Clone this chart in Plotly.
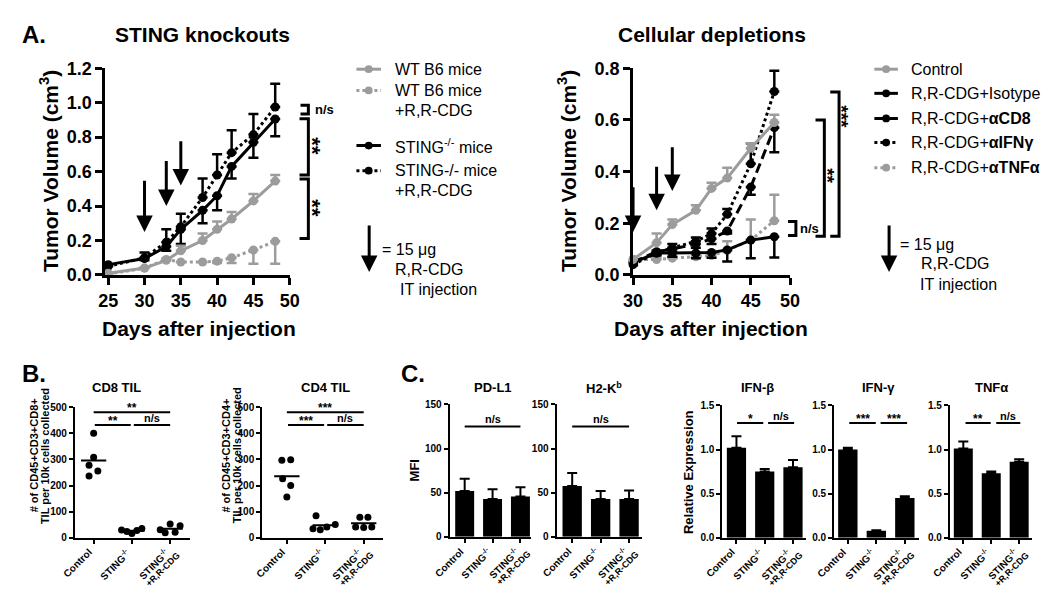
import plotly.graph_objects as go

W, H = 1050, 589
FONT = "Liberation Sans, Arial, Helvetica, sans-serif"
GRAY = "#9c9c9c"
BLACK = "#000000"

# ======================= DATA =======================
# Panel A (left): STING knockouts, tumor volume (cm3) vs day
ko_days = [25, 30, 33, 35, 38, 40, 42, 45, 48]
wt_mean = [0.01, 0.04, 0.085, 0.14, 0.20, 0.265, 0.325, 0.43, 0.545]
wt_err = [0.0, 0.005, 0.01, 0.03, 0.04, 0.045, 0.04, 0.04, 0.035]
wt_cdg_mean = [0.005, 0.04, 0.09, 0.075, 0.075, 0.08, 0.10, 0.145, 0.195]
wt_cdg_err = [0.0, 0.0, 0.0, 0.0, 0.0, 0.01, 0.03, 0.08, 0.13]
sting_mean = [0.06, 0.095, 0.165, 0.265, 0.375, 0.46, 0.63, 0.77, 0.905]
sting_err = [0.0, 0.01, 0.025, 0.085, 0.075, 0.085, 0.07, 0.09, 0.10]
sting_cdg_mean = [0.05, 0.10, 0.19, 0.28, 0.45, 0.58, 0.71, 0.815, 0.975]
sting_cdg_err = [0.0, 0.03, 0.075, 0.075, 0.11, 0.12, 0.13, 0.12, 0.135]

# Panel A (right): cellular depletions
dep_days = [30, 33, 35, 38, 40, 42, 45, 48]
ctrl_mean = [0.06, 0.125, 0.195, 0.25, 0.335, 0.375, 0.49, 0.59]
ctrl_err = [0.01, 0.035, 0.02, 0.02, 0.022, 0.04, 0.02, 0.03]
iso_mean = [0.048, 0.085, 0.085, 0.085, 0.087, 0.097, 0.135, 0.148]
iso_err = [0.01, 0.01, 0.015, 0.02, 0.02, 0.045, 0.07, 0.08]
cd8_mean = [0.05, 0.09, 0.10, 0.12, 0.14, 0.17, 0.34, 0.57]
cd8_err = [0.005, 0.01, 0.01, 0.015, 0.02, 0.01, 0.03, 0.095]
ifng_dep_mean = [0.04, 0.085, 0.105, 0.13, 0.16, 0.235, 0.43, 0.71]
ifng_dep_err = [0.005, 0.01, 0.015, 0.015, 0.02, 0.02, 0.08, 0.08]
tnfa_dep_mean = [0.06, 0.06, 0.065, 0.07, 0.075, 0.095, 0.135, 0.21]
tnfa_dep_err = [0.005, 0.005, 0.005, 0.01, 0.01, 0.035, 0.08, 0.10]

# Injection days (arrows) and arrow extents (tip, tail) in cm3
inj_days = [30, 33, 35]
ko_arrow_tip = [0.25, 0.40, 0.52]
ko_arrow_tail = [0.555, 0.67, 0.785]
dep_arrow_tip = [0.166, 0.25, 0.325]
dep_arrow_tail = [0.345, 0.425, 0.50]

# Panel B: TIL counts per 10k cells
groups = ["Control", "STING<sup>-/-</sup>", "STING<sup>-/-</sup><br>+R,R-CDG"]
cd8_control = [401, 309, 278, 256, 237]
cd8_sting = [30, 24, 16, 28, 35]
cd8_sting_cdg = [31, 53, 46, 19, 21]
cd4_control = [297, 299, 226, 200, 156]
cd4_sting = [84, 34, 31, 41, 51]
cd4_sting_cdg = [79, 79, 41, 39, 41]

# Panel C: MFI and relative expression (mean, SEM)
pdl1_mean = [51.9, 42.8, 45.7]
pdl1_sem = [13.9, 11.0, 10.3]
h2kb_mean = [57.4, 42.8, 42.8]
h2kb_sem = [15.0, 9.2, 9.5]
ifnb_mean = [1.02, 0.75, 0.80]
ifnb_sem = [0.13, 0.03, 0.08]
ifng_mean = [1.00, 0.08, 0.45]
ifng_sem = [0.02, 0.005, 0.02]
tnfa_mean = [1.01, 0.73, 0.86]
tnfa_sem = [0.08, 0.02, 0.03]

# ======================= STYLE / LAYOUT HELPERS =======================
JITTER = {
    "cd8": [[0, 0, -0.12, 0.11, -0.12], [-0.27, -0.13, 0, 0.13, 0.26], [-0.26, 0, 0.26, -0.13, 0.13]],
    "cd4": [[-0.13, 0.10, -0.11, 0.10, 0], [-0.24, -0.32, -0.13, 0.04, 0.26], [-0.10, 0.11, -0.21, 0, 0.21]],
}
# per text line of a rotated category label: (font size, y offset px, x shift px)
CAT_LINE_STYLE = [(10, 6, 4), (9, 10, 15)]


def pxx(p):
    return p / W


def pxy(p):
    return 1 - p / H


def xr(i):
    return "x" if i == 1 else f"x{i}"


def yr(i):
    return "y" if i == 1 else f"y{i}"


layout = dict(
    width=W, height=H, margin=dict(l=0, r=0, t=0, b=0),
    paper_bgcolor="white", plot_bgcolor="white", showlegend=False,
    font=dict(family=FONT, color="black"),
)
shapes = []
annotations = []
traces = []
cat_ticks = [0, 1, 2]


def add_axes(i, xl, xrt, yt, yb, xrange, yrange, xtickvals, ytickvals, ytickfmt, big):
    lw = 3 if big else 2
    tl = 7 if big else 4
    fs = 18 if big else 10
    xn = "xaxis" if i == 1 else f"xaxis{i}"
    yn = "yaxis" if i == 1 else f"yaxis{i}"
    layout[xn] = dict(
        domain=[pxx(xl), pxx(xrt)], range=xrange, anchor=yr(i),
        showline=True, linecolor="black", linewidth=lw, ticks="outside",
        ticklen=tl, tickwidth=lw, tickcolor="black", showgrid=False, zeroline=False,
        tickvals=xtickvals, showticklabels=big,
        tickfont=dict(size=fs, weight="bold", color="black"),
        fixedrange=True,
    )
    layout[yn] = dict(
        domain=[pxy(yb), pxy(yt)], range=yrange, anchor=xr(i),
        showline=True, linecolor="black", linewidth=lw, ticks="outside",
        ticklen=tl, tickwidth=lw, tickcolor="black", showgrid=False, zeroline=False,
        tickvals=ytickvals, tickformat=ytickfmt,
        tickfont=dict(size=fs, weight="bold", color="black"),
        fixedrange=True,
    )
    if not big:
        # rotated category labels (one annotation per text line)
        for g, lab in enumerate(groups):
            for k, line in enumerate(lab.split("<br>")):
                size, dy, dx = CAT_LINE_STYLE[k]
                annotations.append(dict(
                    x=cat_ticks[g], xref=xr(i), y=pxy(yb + dy), yref="paper",
                    text=f"<b>{line}</b>", showarrow=False, xanchor="right", yanchor="top",
                    textangle=-45, xshift=dx, font=dict(size=size, color="black"),
                ))


add_axes(1, 89, 277, 52, 266, [24.6, 50], [0, 1.2], [25, 30, 35, 40, 45, 50],
         [0, 0.2, 0.4, 0.6, 0.8, 1.0, 1.2], ".1f", True)
add_axes(2, 627, 787, 52, 266, [30, 50], [0, 0.8], [30, 35, 40, 45, 50],
         [0, 0.2, 0.4, 0.6, 0.8], ".1f", True)
add_axes(3, 58, 175, 403, 538, [-0.49, 2.51], [0, 500], cat_ticks, [0, 100, 200, 300, 400, 500], "d", False)
add_axes(4, 249, 372, 403, 538, [-0.64, 2.5], [0, 500], cat_ticks, [0, 100, 200, 300, 400, 500], "d", False)
add_axes(5, 440, 523, 400, 537, [-0.54, 2.38], [0, 150], cat_ticks, [0, 50, 100, 150], "d", False)
add_axes(6, 549, 636, 400, 537, [-0.55, 2.45], [0, 150], cat_ticks, [0, 50, 100, 150], "d", False)
add_axes(7, 718, 803, 401, 538, [-0.5, 2.45], [0, 1.5], cat_ticks, [0, 0.5, 1.0, 1.5], ".1f", False)
add_axes(8, 832, 918, 401, 538, [-0.48, 2.48], [0, 1.5], cat_ticks, [0, 0.5, 1.0, 1.5], ".1f", False)
add_axes(9, 950, 1034, 401, 538, [-0.48, 2.47], [0, 1.5], cat_ticks, [0, 0.5, 1.0, 1.5], ".1f", False)


def curve(i, days, mean, err, up, color, dash):
    zeros = [0] * len(mean)
    traces.append(go.Scatter(
        x=days, y=mean, mode="lines+markers", xaxis=xr(i), yaxis=yr(i),
        line=dict(color=color, width=3, dash=dash), marker=dict(size=9, color=color),
        error_y=dict(type="data", symmetric=False, array=err if up else zeros,
                     arrayminus=zeros if up else err, color=color, thickness=2.5, width=5),
        cliponaxis=False,
    ))


# Panel A left
curve(1, ko_days, sting_cdg_mean, sting_cdg_err, True, BLACK, "dot")
curve(1, ko_days, sting_mean, sting_err, False, BLACK, "solid")
curve(1, ko_days, wt_cdg_mean, wt_cdg_err, False, GRAY, "dot")
curve(1, ko_days, wt_mean, wt_err, True, GRAY, "solid")
# Panel A right
curve(2, dep_days, tnfa_dep_mean, tnfa_dep_err, True, GRAY, "dot")
curve(2, dep_days, iso_mean, iso_err, False, BLACK, "solid")
curve(2, dep_days, cd8_mean, cd8_err, False, BLACK, "10px,5px")
curve(2, dep_days, ifng_dep_mean, ifng_dep_err, True, BLACK, "dot")
curve(2, dep_days, ctrl_mean, ctrl_err, True, GRAY, "solid")


def arrows(i, days, tips, tails):
    for d, t, s in zip(days, tips, tails):
        annotations.append(dict(
            x=d, y=t, ax=d, ay=s, xref=xr(i), yref=yr(i), axref=xr(i), ayref=yr(i),
            text="", showarrow=True, arrowhead=2, arrowsize=1.1, arrowwidth=3, arrowcolor="black",
        ))


arrows(1, inj_days, ko_arrow_tip, ko_arrow_tail)
arrows(2, inj_days, dep_arrow_tip, dep_arrow_tail)


def dotplot(i, key, series):
    for g, vals in enumerate(series):
        xs = [g + j for j in JITTER[key][g]]
        traces.append(go.Scatter(x=xs, y=vals, mode="markers", xaxis=xr(i), yaxis=yr(i),
                                 marker=dict(size=7, color="black"), cliponaxis=False))
        m = sum(vals) / len(vals)
        traces.append(go.Scatter(x=[g - 0.33, g + 0.33], y=[m, m], mode="lines", xaxis=xr(i), yaxis=yr(i),
                                 line=dict(color="black", width=2)))


dotplot(3, "cd8", [cd8_control, cd8_sting, cd8_sting_cdg])
dotplot(4, "cd4", [cd4_control, cd4_sting, cd4_sting_cdg])


def bars(i, mean, sem):
    traces.append(go.Bar(
        x=cat_ticks, y=mean, xaxis=xr(i), yaxis=yr(i), width=0.68,
        marker=dict(color="black", line=dict(width=0)),
        error_y=dict(type="data", symmetric=False, array=sem, arrayminus=[0] * len(sem),
                     color="black", thickness=2, width=5),
    ))


bars(5, pdl1_mean, pdl1_sem)
bars(6, h2kb_mean, h2kb_sem)
bars(7, ifnb_mean, ifnb_sem)
bars(8, ifng_mean, ifng_sem)
bars(9, tnfa_mean, tnfa_sem)


# ---- significance markers ----
def sig(i, x0, x1, y, text, star=True):
    shapes.append(dict(type="line", xref=xr(i), yref=yr(i), x0=x0, x1=x1, y0=y, y1=y,
                       line=dict(color="black", width=2)))
    annotations.append(dict(xref=xr(i), yref=yr(i), x=(x0 + x1) / 2, y=y, text=f"<b>{text}</b>",
                            showarrow=False, yanchor="bottom", yshift=-5 if star else -1,
                            font=dict(size=12 if star else 11)))


sig(3, 0, 2, 481, "**")
sig(3, 0.03, 0.97, 432, "**")
sig(3, 1.05, 2, 432, "n/s", False)
sig(4, 0, 2, 481, "***")
sig(4, 0.03, 0.97, 432, "***")
sig(4, 1.05, 2, 432, "n/s", False)
sig(5, 0, 2, 125, "n/s", False)
sig(6, 0, 2, 125, "n/s", False)
sig(7, 0.02, 0.95, 1.3, "*")
sig(7, 1.12, 2.04, 1.3, "n/s", False)
sig(8, 0.05, 0.98, 1.3, "***")
sig(8, 1.15, 2.08, 1.3, "***")
sig(9, 0.08, 0.98, 1.3, "**")
sig(9, 1.18, 2.04, 1.3, "n/s", False)


def bracket(i, x_tick, x_v, y_top, y_bot):
    path = (f"M {pxx(x_tick)},{y_top} L {pxx(x_v)},{y_top} L {pxx(x_v)},{y_bot} "
            f"L {pxx(x_tick)},{y_bot}")
    shapes.append(dict(type="path", xref="paper", yref=yr(i), path=path,
                       line=dict(color="black", width=3)))


def note(x, y, text, size, xanchor="center", yref="paper", angle=0, bold=True, yanchor="middle"):
    annotations.append(dict(
        x=pxx(x), y=y, xref="paper", yref=yref,
        text=f"<b>{text}</b>" if bold else text, showarrow=False, xanchor=xanchor, yanchor=yanchor,
        textangle=angle, font=dict(size=size, color="black"),
    ))


bracket(1, 288, 296, 0.985, 0.935)
bracket(1, 287, 296, 0.907, 0.58)
bracket(1, 287, 296, 0.557, 0.211)
note(301, 0.962, "n/s", 13, xanchor="left", yref="y")
note(300, 0.745, "**", 22, yref="y", angle=90)
note(300, 0.385, "**", 22, yref="y", angle=90)

bracket(2, 785, 793, 0.207, 0.153)
bracket(2, 813, 822, 0.60, 0.15)
bracket(2, 828, 837, 0.708, 0.15)
note(795, 0.18, "n/s", 13, xanchor="left", yref="y2")
note(825, 0.385, "**", 19, yref="y2", angle=90)
note(840, 0.614, "***", 19, yref="y2", angle=90)

# ---- titles / labels ----
note(2, pxy(17), "A.", 24, xanchor="left")
note(188, pxy(17), "STING knockouts", 21)
note(707, pxy(17), "Cellular depletions", 21)
note(31, pxy(158), "Tumor Volume (cm<sup>3</sup>)", 21, angle=-90)
note(559, pxy(158), "Tumor Volume (cm<sup>3</sup>)", 21, angle=-90)
note(185, pxy(321), "Days after injection", 21)
note(706, pxy(321), "Days after injection", 21)

note(2, pxy(368), "B.", 24, xanchor="left")
note(100, pxy(383), "CD8 TIL", 13)
note(313, pxy(383), "CD4 TIL", 13)
note(16, pxy(453), "# of CD45+CD3+CD8+", 11, angle=-90)
note(27, pxy(453), "TIL per 10k cells collected", 11, angle=-90)
note(212, pxy(453), "# of CD45+CD3+CD4+", 11, angle=-90)
note(223, pxy(453), "TIL per 10k cells collected", 11, angle=-90)

note(388, pxy(368), "C.", 24, xanchor="left")
note(484, pxy(383), "PD-L1", 13)
note(597, pxy(383), "H2-K<sup>b</sup>", 13)
note(754, pxy(383), "IFN-β", 13)
note(877, pxy(383), "IFN-γ", 13)
note(992, pxy(383), "TNFα", 13)
note(404, pxy(468), "MFI", 13, angle=-90)
note(683, pxy(470), "Relative Expression", 13, angle=-90)


# ---- hand-drawn legends ----
def legend_item(x0, x1, y, color, dash):
    shapes.append(dict(type="line", xref="paper", yref="paper", x0=pxx(x0), x1=pxx(x1),
                       y0=pxy(y), y1=pxy(y), line=dict(color=color, width=3, dash=dash)))
    xc, r = (x0 + x1) / 2, 4
    shapes.append(dict(type="circle", xref="paper", yref="paper", x0=pxx(xc - r), x1=pxx(xc + r),
                       y0=pxy(y + r), y1=pxy(y - r), fillcolor=color, line=dict(width=0)))


def legend_arrow(x, y_top, y_tip):
    annotations.append(dict(x=pxx(x), y=pxy(y_tip), xref="paper", yref="paper", ax=0, ay=-(y_tip - y_top),
                            text="", showarrow=True, arrowhead=2, arrowsize=1.1, arrowwidth=3,
                            arrowcolor="black"))


legend_item(345, 370, 53, GRAY, "solid")
legend_item(345, 370, 75, GRAY, "dot")
legend_item(345, 370, 132, BLACK, "solid")
legend_item(345, 370, 158, BLACK, "dot")
for y, t in [(53, "WT B6 mice"), (75, "WT B6 mice"), (96, "+R,R-CDG"),
             (132, "STING<sup>-/-</sup> mice"), (158, "STING-/- mice"), (179, "+R,R-CDG")]:
    note(382, pxy(y), t, 16, xanchor="left", bold=False)
legend_arrow(358, 215, 263)
note(369, pxy(240), "= 15 μg", 16, xanchor="left", bold=False)
note(382, pxy(260), "R,R-CDG", 16, xanchor="left", bold=False)
note(387, pxy(281), "IT injection", 16, xanchor="left", bold=False)

legend_item(873, 897, 53, GRAY, "solid")
legend_item(873, 897, 78, BLACK, "solid")
legend_item(873, 897, 104, BLACK, "10px,5px")
legend_item(873, 897, 129, BLACK, "dot")
legend_item(873, 897, 155, GRAY, "dot")
for y, t in [(53, "Control"), (78, "R,R-CDG+Isotype"), (104, "R,R-CDG+<b>αCD8</b>"),
             (129, "R,R-CDG+<b>αIFNγ</b>"), (155, "R,R-CDG+<b>αTNFα</b>")]:
    note(908, pxy(y), t, 16, xanchor="left", bold=False)
legend_arrow(888, 215, 263)
note(897, pxy(234), "= 15 μg", 16, xanchor="left", bold=False)
note(918, pxy(254), "R,R-CDG", 16, xanchor="left", bold=False)
note(917, pxy(276), "IT injection", 16, xanchor="left", bold=False)

layout["shapes"] = shapes
layout["annotations"] = annotations

fig = go.Figure(data=traces, layout=layout)
fig.write_html("out.html")
